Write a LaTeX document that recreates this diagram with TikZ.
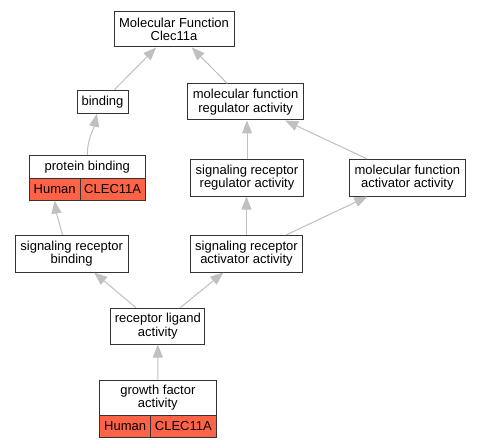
\documentclass[tikz,border=0pt]{standalone}
\usepackage{fontspec}
\setmainfont{Liberation Sans}
\usetikzlibrary{arrows.meta}
\definecolor{cellred}{HTML}{FF6347}
\definecolor{edgegray}{HTML}{C0C0C0}
\definecolor{boxline}{HTML}{333333}
\tikzset{
  box/.style={draw=boxline, line width=1bp, fill=white, inner sep=0pt, align=center,
    font={\fontsize{13bp}{13.5bp}\selectfont}},
  cell/.style={box, fill=cellred},
  edge/.style={draw=edgegray, line width=1bp, -{Triangle[length=13bp,width=10bp]}}
}
\begin{document}
\begin{tikzpicture}[x=1bp,y=-1bp]
\useasboundingbox[fill=white] (0,0) rectangle (480,448);
% nodes
\node[box, minimum width=120bp, minimum height=35bp] (mf) at (174,29.5) {Molecular Function\\Clec11a};
\node[box, minimum width=51bp, minimum height=23bp] (binding) at (102.5,101.7) {binding};
\node[box, minimum width=116.7bp, minimum height=36bp] (mfra) at (245.6,102) {molecular function\\regulator activity};
\node[box, minimum width=116bp, minimum height=22.6bp] (pbt) at (87.3,167) {protein binding};
\node[cell, minimum width=50.7bp, minimum height=21.7bp] (pbh) at (54.65,189.2) {Human};
\node[cell, minimum width=65.3bp, minimum height=21.7bp] (pbc) at (112.65,189.2) {CLEC11A};
\node[box, minimum width=112.6bp, minimum height=36.7bp] (srra) at (247,177.7) {signaling receptor\\regulator activity};
\node[box, minimum width=116bp, minimum height=36.7bp] (mfaa) at (407.3,177.7) {molecular function\\activator activity};
\node[box, minimum width=112.7bp, minimum height=36.7bp] (srb) at (71.7,253.7) {signaling receptor\\binding};
\node[box, minimum width=112.4bp, minimum height=36.7bp] (sraa) at (246.5,253.7) {signaling receptor\\activator activity};
\node[box, minimum width=94.3bp, minimum height=36bp] (rla) at (157.8,326) {receptor ligand\\activity};
\node[box, minimum width=116.3bp, minimum height=35.3bp] (gfa) at (157.85,397.7) {growth factor\\activity};
\node[cell, minimum width=51bp, minimum height=22bp] (gfah) at (125.2,426.3) {Human};
\node[cell, minimum width=65.3bp, minimum height=22bp] (gfac) at (183.35,426.3) {CLEC11A};
% edges
\draw[edge] (binding) -- (mf);
\draw[edge] (mfra) -- (mf);
\draw[edge] (pbt.north) to[out=90,in=-102] (binding.-115);
\draw[edge] (srb.116) to[out=105,in=-82] (pbh.south);
\draw[edge] (srra.north) -- (srra.north |- mfra.south);
\draw[edge] (mfaa) -- (mfra);
\draw[edge] (sraa.north) -- (sraa.north |- srra.south);
\draw[edge] (sraa) -- (mfaa);
\draw[edge] (rla) -- (srb);
\draw[edge] (rla) -- (sraa);
\draw[edge] (gfa) -- (rla);
\end{tikzpicture}
\end{document}
